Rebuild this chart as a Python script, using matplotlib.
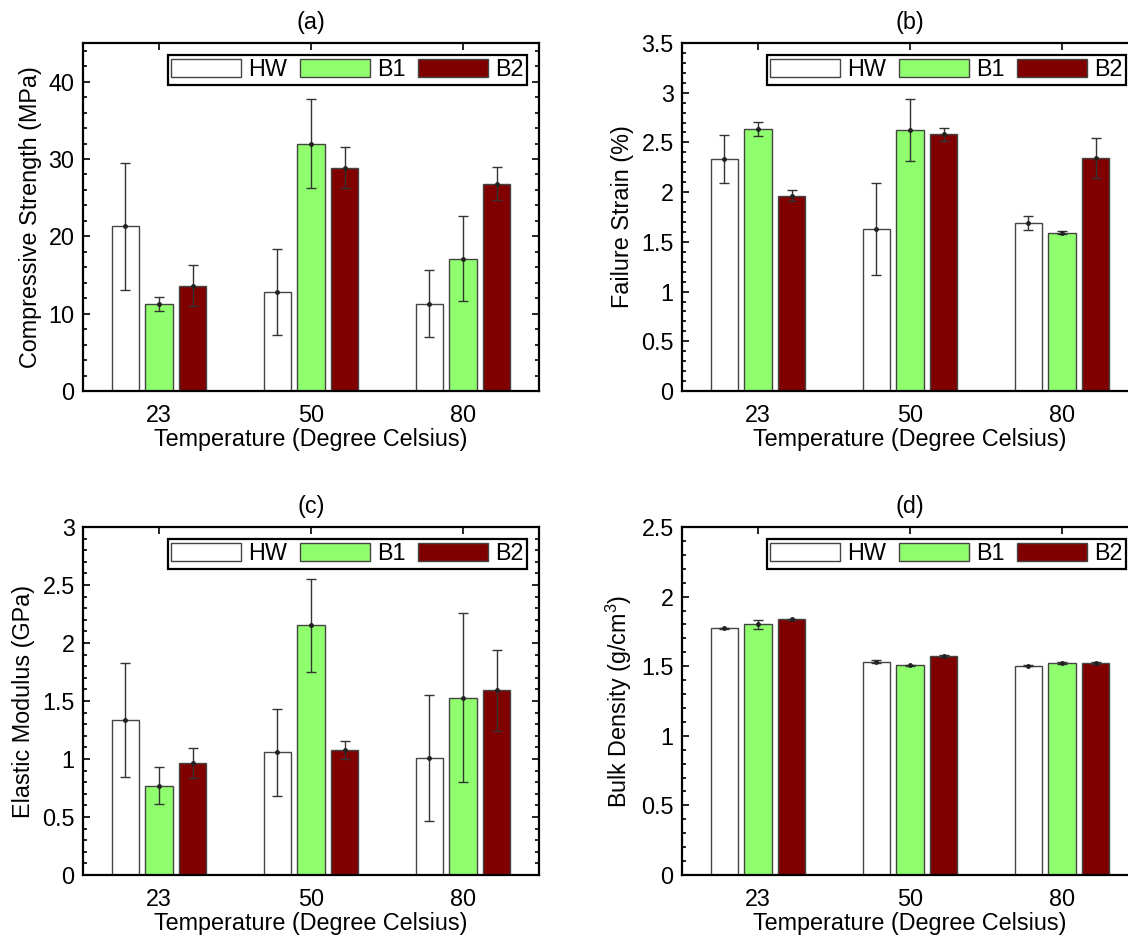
import matplotlib
matplotlib.use('Agg')
import matplotlib.pyplot as plt
import numpy as np
from matplotlib.ticker import MultipleLocator

plt.rcParams['font.family'] = ['Liberation Sans', 'DejaVu Sans']
plt.rcParams['mathtext.default'] = 'regular'

# Temperatures and sample groups
temps = ['23', '50', '80']
groups = ['HW', 'B1', 'B2']
colors = ['white', '#90FF6E', '#800000']

# (a) compressive strength, MPa
strength = {'HW': [21.3, 12.8, 11.3], 'B1': [11.3, 32.0, 17.1], 'B2': [13.6, 28.9, 26.8]}
strength_err = {'HW': [8.2, 5.5, 4.3], 'B1': [0.9, 5.8, 5.5], 'B2': [2.65, 2.7, 2.15]}

# (b) failure strain, %
strain = {'HW': [2.33, 1.63, 1.69], 'B1': [2.635, 2.628, 1.592], 'B2': [1.965, 2.58, 2.343]}
strain_err = {'HW': [0.24, 0.46, 0.07], 'B1': [0.07, 0.31, 0.013], 'B2': [0.055, 0.07, 0.2]}

# (c) elastic modulus, GPa
modulus = {'HW': [1.338, 1.057, 1.008], 'B1': [0.769, 2.153, 1.53], 'B2': [0.968, 1.074, 1.593]}
modulus_err = {'HW': [0.49, 0.373, 0.54], 'B1': [0.16, 0.40, 0.73], 'B2': [0.13, 0.078, 0.35]}

# (d) bulk density, g/cm3
density = {'HW': [1.772, 1.533, 1.504], 'B1': [1.800, 1.507, 1.523], 'B2': [1.836, 1.574, 1.523]}
density_err = {'HW': [0.005, 0.008, 0.006], 'B1': [0.03, 0.005, 0.005], 'B2': [0.005, 0.006, 0.004]}

panels = [
    ('(a)', 'Compressive Strength (MPa)', strength, strength_err, 45, 10, 2),
    ('(b)', 'Failure Strain (%)', strain, strain_err, 3.5, 0.5, 0.1),
    ('(c)', 'Elastic Modulus (GPa)', modulus, modulus_err, 3, 0.5, 0.1),
    ('(d)', 'Bulk Density (g/cm$^3$)', density, density_err, 2.5, 0.5, 0.1),
]

fig = plt.figure(figsize=(11.28, 9.38), dpi=100)
W, H = 1128, 938
ax_w, ax_h = 456, 348
lefts = [83, 682]
tops = [43, 527]
fs = 16.8

x = np.arange(1, len(temps) + 1)
offset = 0.222
width = 0.18

for k, (title, ylabel, vals, errs, ymax, major, minor) in enumerate(panels):
    left = lefts[k % 2]
    top = tops[k // 2]
    ax = fig.add_axes([left / W, (H - top - ax_h) / H, ax_w / W, ax_h / H])

    for i, g in enumerate(groups):
        xpos = x + (i - 1) * offset
        ax.bar(xpos, vals[g], width, color=colors[i], edgecolor='#444444',
               linewidth=1.0, label=g, zorder=2)
        ax.errorbar(xpos, vals[g], yerr=errs[g], fmt='.', color='#222222',
                    ecolor='#333333', elinewidth=1.0, capsize=3.5, capthick=1.0,
                    markersize=5, zorder=3)

    ax.set_xlim(0.5, 3.5)
    ax.set_ylim(0, ymax)
    ax.set_xticks(x)
    ax.set_xticklabels(temps)
    ax.yaxis.set_major_locator(MultipleLocator(major))
    ax.yaxis.set_minor_locator(MultipleLocator(minor))
    ax.yaxis.set_major_formatter(plt.FuncFormatter(lambda v, p: f'{v:g}'))
    ax.tick_params(axis='both', which='both', direction='in', top=True, right=True,
                   labelsize=fs, width=1.2)
    ax.tick_params(axis='both', which='major', length=5)
    ax.tick_params(axis='x', which='major', pad=9)
    ax.tick_params(axis='y', which='major', pad=6)
    ax.tick_params(axis='y', which='minor', length=3)
    for s in ax.spines.values():
        s.set_linewidth(1.6)

    ax.set_title(title, fontsize=fs, pad=10)
    ax.set_xlabel('Temperature (Degree Celsius)', fontsize=fs, labelpad=1)
    ax.set_ylabel(ylabel, fontsize=fs, labelpad=5)

    leg = ax.legend(ncol=3, loc='upper right', fontsize=fs, frameon=True,
                    fancybox=False, handlelength=3.0, handleheight=0.75,
                    handletextpad=0.3, columnspacing=0.55, borderpad=0.15,
                    borderaxespad=0.5)
    leg.get_frame().set_edgecolor('black')
    leg.get_frame().set_linewidth(1.6)
    leg.get_frame().set_alpha(1)

fig.savefig('out.png', dpi=100)
